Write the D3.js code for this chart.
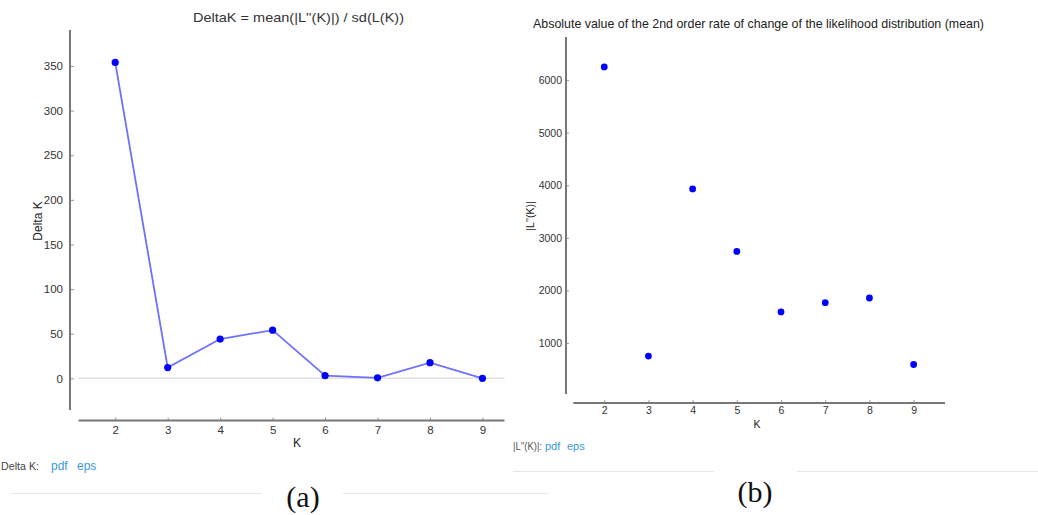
<!DOCTYPE html>
<html><head><meta charset="utf-8">
<script src="https://cdn.jsdelivr.net/npm/d3@7"></script>
<style>body{margin:0;background:#fff;}svg{display:block;}</style>
</head><body>
<svg id="c" width="1038" height="515"></svg>
<script>
// ---- data ----
const kValues = [2, 3, 4, 5, 6, 7, 8, 9];
const deltaK = [354, 12, 44, 54, 3, 0.5, 17.5, 0];
const absL2 = [6250, 750, 3930, 2740, 1590, 1765, 1855, 590];
const deltaTicks = [0, 50, 100, 150, 200, 250, 300, 350];
const l2Ticks = [1000, 2000, 3000, 4000, 5000, 6000];
const titleA = "DeltaK = mean(|L''(K)|) / sd(L(K))";
const titleB = "Absolute value of the 2nd order rate of change of the likelihood distribution (mean)";

const svg = d3.select("#c");
const FONT = "Liberation Sans, Arial, sans-serif";
const axisCol = "#777";
const textCol = "#333";

function styleAxis(g) {
  g.select(".domain").remove();
  g.selectAll(".tick line").attr("stroke", "#999").attr("stroke-width", 1);
  g.selectAll(".tick text").attr("fill", textCol).style("font-family", FONT);
}

// ================= Panel (a) =================
{
  const x = d3.scaleLinear().domain([1.30, 9.42]).range([78.5, 504.5]);
  const y = d3.scaleLinear().domain([-35.5, 390.3]).range([410, 30]);

  svg.append("line").attr("x1", x.range()[0]).attr("x2", x.range()[1])
    .attr("y1", y(0)).attr("y2", y(0)).attr("stroke", "#e0e0e0").attr("stroke-width", 1.6);

  const gy = svg.append("g").attr("transform", "translate(70,0)")
    .call(d3.axisLeft(y).tickValues(deltaTicks).tickFormat(d3.format("d")).tickSizeInner(-4).tickSizeOuter(0).tickPadding(7))
    .style("font-size", "11.5px");
  styleAxis(gy);
  svg.append("line").attr("x1", 70).attr("x2", 70).attr("y1", y.range()[1]).attr("y2", y.range()[0])
    .attr("stroke", axisCol).attr("stroke-width", 2);

  const gx = svg.append("g").attr("transform", "translate(0,420.5)")
    .call(d3.axisBottom(x).tickValues(kValues).tickSizeInner(-3).tickSizeOuter(0).tickPadding(5))
    .style("font-size", "11.5px");
  styleAxis(gx);
  svg.append("line").attr("x1", x.range()[0]).attr("x2", x.range()[1]).attr("y1", 420.5).attr("y2", 420.5)
    .attr("stroke", axisCol).attr("stroke-width", 2);

  const pts = kValues.map((k, i) => [k, deltaK[i]]);
  svg.append("path").datum(pts)
    .attr("d", d3.line().x(d => x(d[0])).y(d => y(d[1])))
    .attr("fill", "none").attr("stroke", "#7070ff").attr("stroke-width", 1.8);
  svg.append("g").selectAll("circle").data(pts).join("circle")
    .attr("cx", d => x(d[0])).attr("cy", d => y(d[1])).attr("r", 3.6).attr("fill", "#0000ff");

  svg.append("text").attr("x", 298.5).attr("y", 22).attr("text-anchor", "middle")
    .attr("textLength", 211).attr("lengthAdjust", "spacingAndGlyphs")
    .style("font-family", FONT).style("font-size", "13px").attr("fill", textCol).text(titleA);
  svg.append("text").attr("transform", "translate(42,221) rotate(-90)").attr("text-anchor", "middle")
    .style("font-family", FONT).style("font-size", "12px").attr("fill", "#222").text("Delta K");
  svg.append("text").attr("x", 297).attr("y", 447).attr("text-anchor", "middle")
    .style("font-family", FONT).style("font-size", "12px").attr("fill", "#222").text("K");

  svg.append("text").attr("x", 1).attr("y", 470)
    .attr("textLength", 38).attr("lengthAdjust", "spacingAndGlyphs")
    .style("font-family", FONT).style("font-size", "11.5px").attr("fill", "#444").text("Delta K:");
  svg.append("text").attr("x", 51).attr("y", 470)
    .style("font-family", FONT).style("font-size", "12px").attr("fill", "#3a9ad9").text("pdf");
  svg.append("text").attr("x", 77).attr("y", 470)
    .style("font-family", FONT).style("font-size", "12px").attr("fill", "#3a9ad9").text("eps");

  svg.append("line").attr("x1", 11).attr("x2", 262).attr("y1", 493.5).attr("y2", 493.5).attr("stroke", "#e6e6e6");
  svg.append("line").attr("x1", 343).attr("x2", 548).attr("y1", 493.5).attr("y2", 493.5).attr("stroke", "#e6e6e6");
  svg.append("text").attr("x", 303).attr("y", 507).attr("text-anchor", "middle")
    .style("font-family", "Liberation Serif, serif").style("font-size", "30px").attr("fill", "#111").text("(a)");
}

// ================= Panel (b) =================
{
  const x = d3.scaleLinear().domain([1.30, 9.71]).range([573.3, 945]);
  const y = d3.scaleLinear().domain([0, 6820]).range([395.5, 37]);

  const gy = svg.append("g").attr("transform", "translate(566,0)")
    .call(d3.axisLeft(y).tickValues(l2Ticks).tickFormat(d3.format("d")).tickSizeInner(-3).tickSizeOuter(0).tickPadding(4))
    .style("font-size", "10.5px");
  styleAxis(gy);
  svg.append("line").attr("x1", 566).attr("x2", 566).attr("y1", 37).attr("y2", 394)
    .attr("stroke", axisCol).attr("stroke-width", 2);

  const gx = svg.append("g").attr("transform", "translate(0,403)")
    .call(d3.axisBottom(x).tickValues(kValues).tickSizeInner(-3).tickSizeOuter(0).tickPadding(4))
    .style("font-size", "10.5px");
  styleAxis(gx);
  svg.append("line").attr("x1", x.range()[0]).attr("x2", x.range()[1]).attr("y1", 403).attr("y2", 403)
    .attr("stroke", axisCol).attr("stroke-width", 2);

  const pts = kValues.map((k, i) => [k, absL2[i]]);
  svg.append("g").selectAll("circle").data(pts).join("circle")
    .attr("cx", d => x(d[0])).attr("cy", d => y(d[1])).attr("r", 3.4).attr("fill", "#0000ff");

  svg.append("text").attr("x", 533).attr("y", 28)
    .attr("textLength", 451).attr("lengthAdjust", "spacingAndGlyphs")
    .style("font-family", FONT).style("font-size", "13px").attr("fill", "#222").text(titleB);
  svg.append("text").attr("transform", "translate(534,216) rotate(-90)").attr("text-anchor", "middle")
    .style("font-family", FONT).style("font-size", "10.5px").attr("fill", "#222").text("|L''(K)|");
  svg.append("text").attr("x", 757).attr("y", 428).attr("text-anchor", "middle")
    .style("font-family", FONT).style("font-size", "10.5px").attr("fill", "#222").text("K");

  svg.append("text").attr("x", 513).attr("y", 450)
    .attr("textLength", 29).attr("lengthAdjust", "spacingAndGlyphs")
    .style("font-family", FONT).style("font-size", "11px").attr("fill", "#555").text("|L''(K)|:");
  svg.append("text").attr("x", 545).attr("y", 450)
    .style("font-family", FONT).style("font-size", "11px").attr("fill", "#3a9ad9").text("pdf");
  svg.append("text").attr("x", 567).attr("y", 450)
    .style("font-family", FONT).style("font-size", "11px").attr("fill", "#3a9ad9").text("eps");

  svg.append("line").attr("x1", 513).attr("x2", 714).attr("y1", 471.5).attr("y2", 471.5).attr("stroke", "#e6e6e6");
  svg.append("line").attr("x1", 797).attr("x2", 1038).attr("y1", 471.5).attr("y2", 471.5).attr("stroke", "#e6e6e6");
  svg.append("text").attr("x", 755).attr("y", 502).attr("text-anchor", "middle")
    .style("font-family", "Liberation Serif, serif").style("font-size", "30px").attr("fill", "#111").text("(b)");
}
</script>
</body></html>
